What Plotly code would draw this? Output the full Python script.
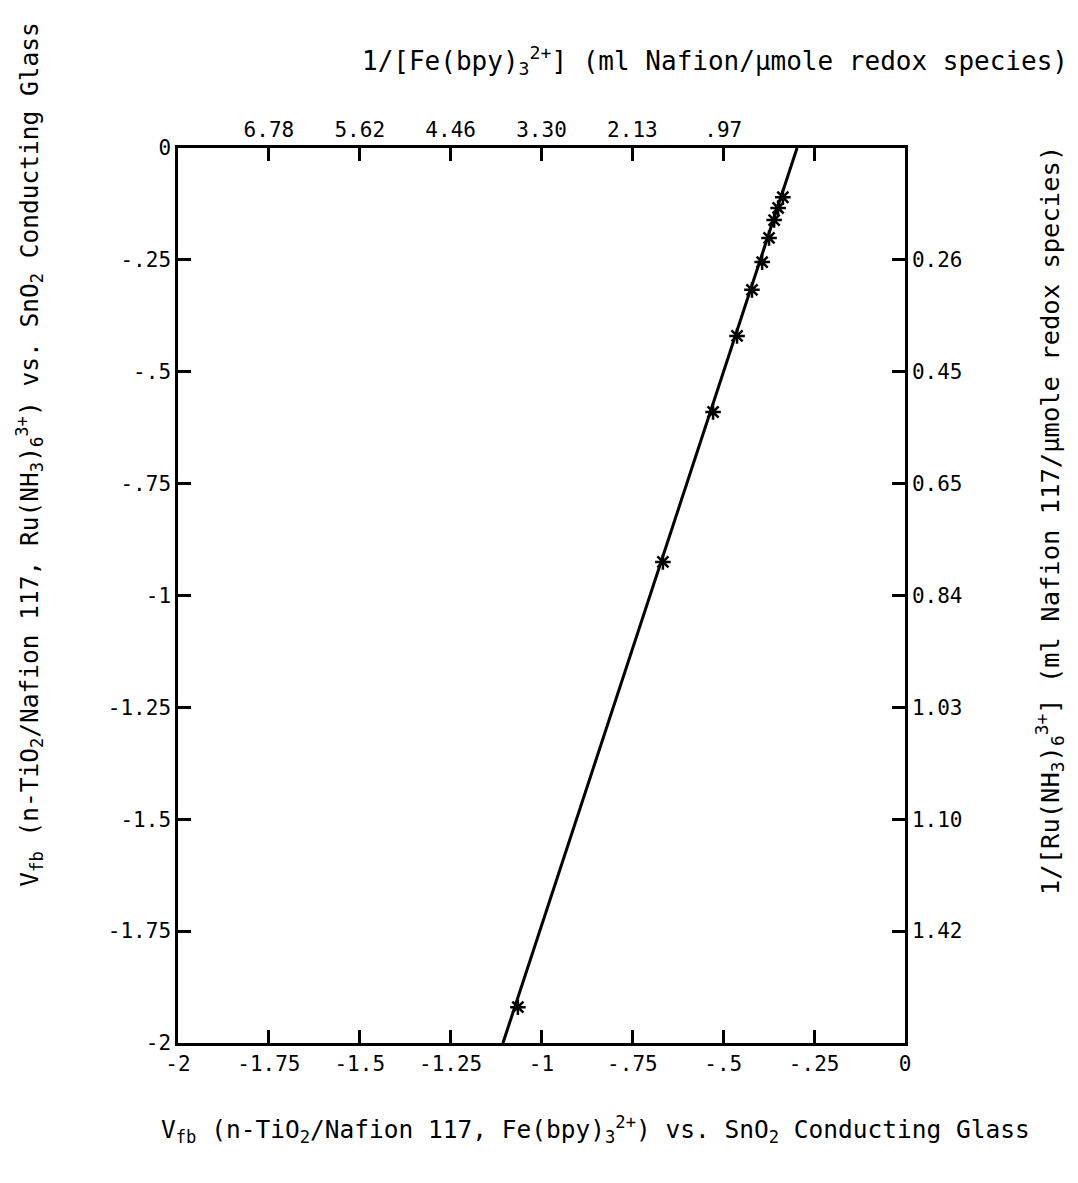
import plotly.graph_objects as go

# ---- data ----
vfb_fe = [-0.336, -0.349, -0.360, -0.374, -0.393, -0.421, -0.462, -0.528, -0.666, -1.065]
vfb_ru = [-0.110, -0.134, -0.161, -0.201, -0.255, -0.317, -0.420, -0.590, -0.925, -1.920]

fit_x = [-1.106, -0.297]
fit_y = [-2.0, 0.0]

main_tickvals = [-2, -1.75, -1.5, -1.25, -1, -0.75, -0.5, -0.25, 0]
main_ticktext = ["-2", "-1.75", "-1.5", "-1.25", "-1", "-.75", "-.5", "-.25", "0"]

top_tickvals = [-1.75, -1.5, -1.25, -1, -0.75, -0.5, -0.25]
top_ticktext = ["6.78", "5.62", "4.46", "3.30", "2.13", ".97", ""]

right_tickvals = [-0.25, -0.5, -0.75, -1, -1.25, -1.5, -1.75]
right_ticktext = ["0.26", "0.45", "0.65", "0.84", "1.03", "1.10", "1.42"]

FONT = "DejaVu Sans Mono"

fig = go.Figure()
fig.add_trace(go.Scatter(x=fit_x, y=fit_y, mode="lines",
                         line=dict(color="black", width=3), showlegend=False,
                         hoverinfo="skip"))
fig.add_trace(go.Scatter(x=vfb_fe, y=vfb_ru, mode="markers",
                         marker=dict(symbol="asterisk", size=13, color="black",
                                     line=dict(color="black", width=2.5)),
                         showlegend=False))
# invisible trace to activate the secondary axes
fig.add_trace(go.Scatter(x=[fit_x[0]], y=[fit_y[0]], xaxis="x2", yaxis="y2",
                         mode="markers", marker=dict(opacity=0), showlegend=False,
                         hoverinfo="skip"))

axis_common = dict(range=[-2, 0], showgrid=False, zeroline=False,
                   showline=True, linecolor="black", linewidth=2.5,
                   ticks="inside", ticklen=13, tickwidth=2.5, tickcolor="black",
                   tickfont=dict(family=FONT, size=21, color="black"))

fig.update_layout(
    width=1078, height=1183,
    margin=dict(l=178, r=173, t=148, b=140),
    paper_bgcolor="white", plot_bgcolor="white",
    font=dict(family=FONT, color="black"),
    xaxis=dict(**axis_common, tickmode="array", tickvals=main_tickvals,
               ticktext=main_ticktext, side="bottom"),
    yaxis=dict(**axis_common, tickmode="array", tickvals=main_tickvals,
               ticktext=main_ticktext, side="left"),
    xaxis2=dict(**axis_common, overlaying="x", side="top", tickmode="array",
                tickvals=top_tickvals, ticktext=top_ticktext),
    yaxis2=dict(**axis_common, overlaying="y", side="right", tickmode="array",
                tickvals=right_tickvals, ticktext=right_ticktext),
)

fig.add_annotation(
    text="1/[Fe(bpy)<sub>3</sub><sup>2+</sup>] (ml Nafion/μmole redox species)",
    xref="paper", yref="paper", x=0.739, y=1.098, showarrow=False,
    font=dict(family=FONT, size=26, color="black"), xanchor="center", yanchor="middle")
fig.add_annotation(
    text="V<sub>fb</sub> (n-TiO<sub>2</sub>/Nafion 117, Fe(bpy)<sub>3</sub><sup>2+</sup>) vs. SnO<sub>2</sub> Conducting Glass",
    xref="paper", yref="paper", x=0.574, y=-0.097, showarrow=False,
    font=dict(family=FONT, size=24.5, color="black"), xanchor="center", yanchor="middle")
fig.add_annotation(
    text="V<sub>fb</sub> (n-TiO<sub>2</sub>/Nafion 117, Ru(NH<sub>3</sub>)<sub>6</sub><sup>3+</sup>) vs. SnO<sub>2</sub> Conducting Glass",
    xref="paper", yref="paper", x=-0.204, y=0.657, showarrow=False, textangle=-90,
    font=dict(family=FONT, size=24.5, color="black"), xanchor="center", yanchor="middle")
fig.add_annotation(
    text="1/[Ru(NH<sub>3</sub>)<sub>6</sub><sup>3+</sup>] (ml Nafion 117/μmole redox species)",
    xref="paper", yref="paper", x=1.199, y=0.584, showarrow=False, textangle=-90,
    font=dict(family=FONT, size=25.5, color="black"), xanchor="center", yanchor="middle")

fig.write_html("out.html")
